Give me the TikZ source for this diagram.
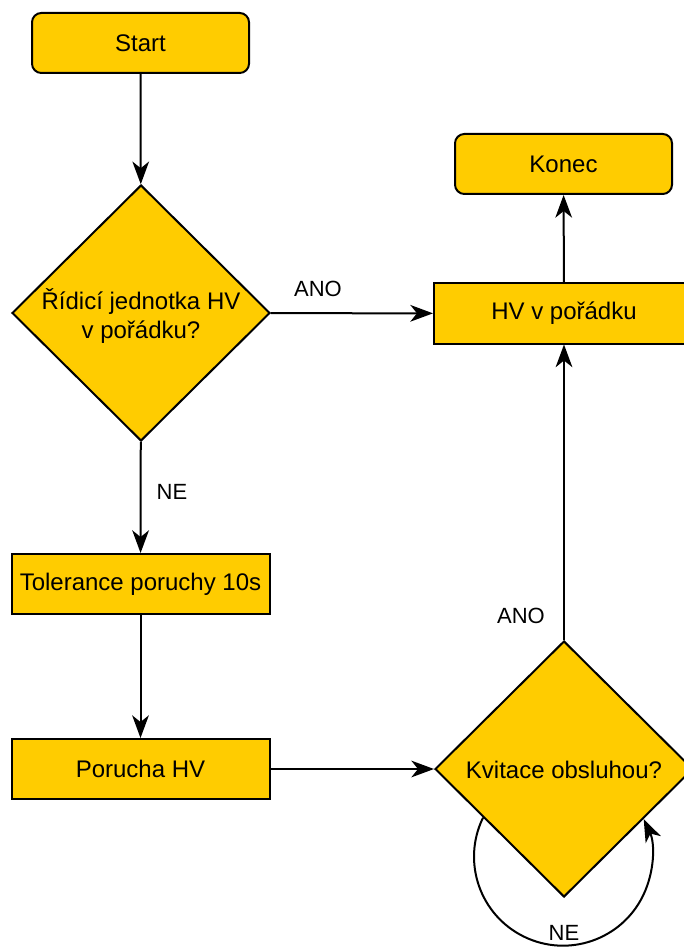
\documentclass[tikz,border=0pt]{standalone}
\usepackage{fontspec}
\setmainfont{Liberation Sans}
\usetikzlibrary{shapes.geometric,arrows.meta}
\definecolor{boxfill}{HTML}{FFCC00}
\begin{document}
\begin{tikzpicture}[x=0.75pt,y=-0.75pt,
  every node/.style={font=\fontsize{18pt}{21.75pt}\selectfont},
  base/.style={draw=black, fill=boxfill, line width=1.5pt, inner sep=0pt,
    minimum height=45pt},
  terminal/.style={base, rounded corners=7pt, minimum width=162.75pt},
  process/.style={base, minimum width=193.5pt},
  decision/.style={draw=black, fill=boxfill, line width=1.5pt, shape=diamond,
    inner sep=0pt, minimum width=193.5pt, minimum height=192pt},
  flow/.style={line width=1.5pt, -{Stealth[length=17pt,width=12.5pt,inset=5pt]}},
  edgelabel/.style={font=\fontsize{16.5pt}{19.8pt}\selectfont}]
\clip (0,0) rectangle (684,948);

% nodes
\node[terminal] (start) at (140.5,43) {Start};
\node[decision] (q1) at (141,313) {};
\node[align=center] (q1text) at (141,316) {Řídicí jednotka HV\\v pořádku?};
\node[process] (tol) at (140.5,584) {Tolerance poruchy 10s};
\node[process] (fault) at (140.5,769) {Porucha HV};
\node[decision] (q2) at (564,769) {};
\node (q2text) at (564,770) {Kvitace obsluhou?};
\node[process, minimum width=195pt] (ok) at (564,313.5) {HV v pořádku};
\node[terminal] (end) at (563.5,164) {Konec};

% connectors
\draw[flow] (start) -- (q1);
\draw[flow] (q1) -- (ok);
\draw[flow] (q1) -- (tol);
\draw[flow] (tol) -- (fault);
\draw[flow] (fault) -- (q2);
\draw[flow] (q2) -- (ok);
\draw[flow] (ok) -- (end);
\draw[flow] (q2.211) arc[start angle=206, end angle=-25, radius=89];

% connector labels
\node[edgelabel] (lano1) at (318,289) {ANO};
\node[edgelabel] (lne1) at (172,492) {NE};
\node[edgelabel] (lano2) at (521,616) {ANO};
\node[edgelabel] (lne2) at (564,933) {NE};
\end{tikzpicture}
\end{document}
